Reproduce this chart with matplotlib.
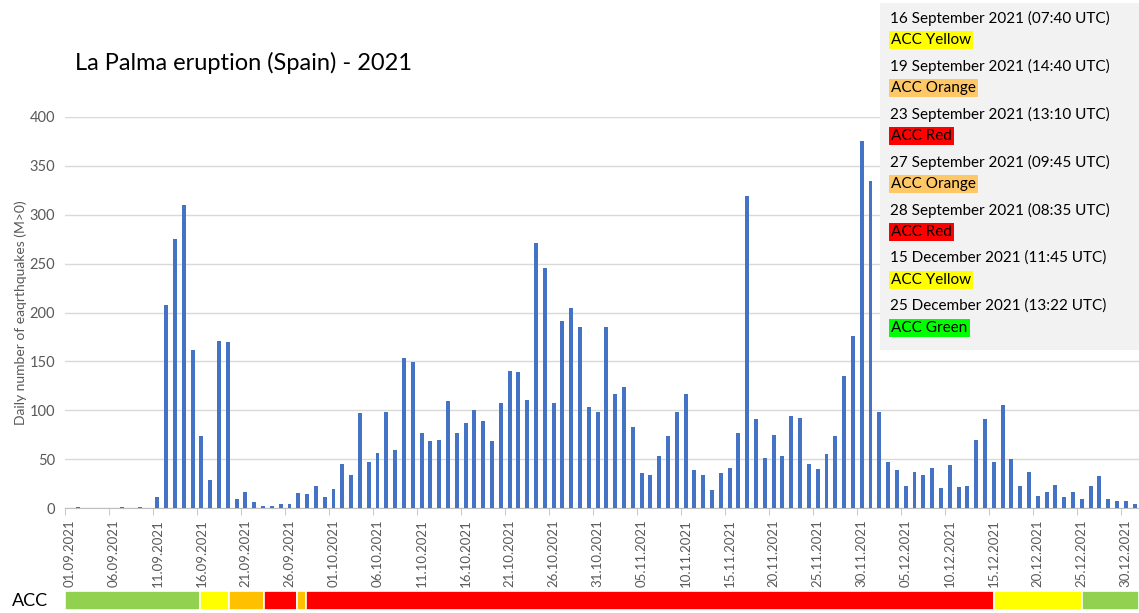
import matplotlib.pyplot as plt
import matplotlib.patches as mpatches
import numpy as np
import pandas as pd

plt.rcParams['font.family'] = ['Lato', 'DejaVu Sans']

# daily number of earthquakes, 01.09.2021 - 31.12.2021
quakes = [
    0, 1, 0, 0, 0, 0, 1, 0, 1, 0,
    11, 208, 275, 310, 162, 74, 29, 171, 170, 9,
    16, 6, 2, 2, 4, 4, 15, 14, 22, 11,
    19, 45, 34, 97, 47, 56, 98, 59, 153, 149,
    77, 69, 70, 109, 77, 87, 100, 89, 69, 107,
    140, 139, 110, 271, 246, 107, 191, 205, 185, 103,
    98, 185, 117, 124, 83, 36, 34, 53, 74, 98,
    117, 39, 34, 18, 36, 41, 77, 319, 91, 51,
    75, 53, 94, 92, 45, 40, 55, 74, 135, 176,
    375, 335, 98, 47, 39, 22, 37, 34, 41, 20,
    44, 21, 22, 70, 91, 47, 105, 50, 22, 37,
    12, 16, 24, 11, 16, 9, 22, 33, 9, 7, 7, 4,
]
days = pd.date_range('2021-09-01', '2021-12-31', freq='D')

# ACC alert level changes
acc_changes = ['2021-09-01 00:00', '2021-09-16 07:40', '2021-09-19 14:40', '2021-09-23 13:10',
               '2021-09-27 09:45', '2021-09-28 08:35', '2021-12-15 11:45', '2021-12-25 13:22',
               '2022-01-01 00:00']
acc_colors = ['#92D050', '#FFFF00', '#FFC000', '#FF0000', '#FFC000', '#FF0000', '#FFFF00', '#92D050']

notes = ['16 September 2021 (07:40 UTC)', '19 September 2021 (14:40 UTC)',
         '23 September 2021 (13:10 UTC)', '27 September 2021 (09:45 UTC)',
         '28 September 2021 (08:35 UTC)', '15 December 2021 (11:45 UTC)',
         '25 December 2021 (13:22 UTC)']
note_labels = ['ACC Yellow', 'ACC Orange', 'ACC Red', 'ACC Orange', 'ACC Red', 'ACC Yellow', 'ACC Green']
note_colors = ['#FFFF00', '#FFC866', '#FF0000', '#FFC866', '#FF0000', '#FFFF00', '#00FF00']

W, H = 1139, 613
fig = plt.figure(figsize=(W / 100, H / 100), dpi=100)
ax = fig.add_axes([65 / W, 1 - 508 / H, 1074 / W, 391 / H])

x = np.arange(len(quakes))
ax.bar(x, quakes, width=0.45, color='#4472C4', zorder=3)
ax.set_xlim(-0.5, len(quakes) - 0.5)
ax.set_ylim(0, 400)
ax.set_yticks(range(0, 401, 50))
ax.grid(axis='y', color='#D9D9D9', linewidth=1, zorder=0)
for s in ['top', 'right', 'left']:
    ax.spines[s].set_visible(False)
ax.spines['bottom'].set_color('#BFBFBF')
ax.tick_params(axis='y', length=0, labelsize=10.5, labelcolor='#595959', pad=7)

lab_idx = np.arange(0, len(quakes), 5)
ax.set_xticks(lab_idx)
ax.set_xticklabels([days[i].strftime('%d.%m.%Y') for i in lab_idx], rotation=90)
ax.tick_params(axis='x', which='major', length=0, labelsize=9.5, labelcolor='#595959', pad=8)
ax.set_xticks(lab_idx - 0.5, minor=True)
ax.tick_params(axis='x', which='minor', length=5, color='#BFBFBF', direction='out')

ax.set_ylabel('Daily number of eaqrthquakes (M>0)', fontsize=10, color='#595959', labelpad=2)

fig.text(75 / W, 1 - 63 / H, 'La Palma eruption (Spain) - 2021', fontsize=17, va='center')

# ACC bar
acc_ax = fig.add_axes([65 / W, 1 - 610 / H, 1074 / W, 19 / H])
t0 = pd.Timestamp(acc_changes[0])
bounds = [(pd.Timestamp(t) - t0).total_seconds() / 86400 for t in acc_changes]
for k, c in enumerate(acc_colors):
    acc_ax.barh(0, bounds[k + 1] - bounds[k], left=bounds[k], height=1, color=c,
                edgecolor='white', linewidth=1.2)
acc_ax.set_xlim(0, len(quakes))
acc_ax.set_ylim(-0.5, 0.5)
acc_ax.axis('off')
fig.text(12 / W, 1 - 601 / H, 'ACC', fontsize=13, va='center')

# notes box
box = mpatches.Rectangle((880 / W, 1 - 350 / H), (W - 880) / W, 347 / H,
                         transform=fig.transFigure, facecolor='#F2F2F2', edgecolor='none', zorder=5)
fig.add_artist(box)
for k in range(len(notes)):
    y0 = 18 + 48 * k
    fig.text(890 / W, 1 - y0 / H, notes[k], fontsize=11, va='center', zorder=6)
    fig.text(891 / W, 1 - (y0 + 22) / H, note_labels[k], fontsize=11, va='center', zorder=6,
             bbox=dict(boxstyle='square,pad=0.15', facecolor=note_colors[k], edgecolor='none'))

fig.savefig('out.png', dpi=100)
